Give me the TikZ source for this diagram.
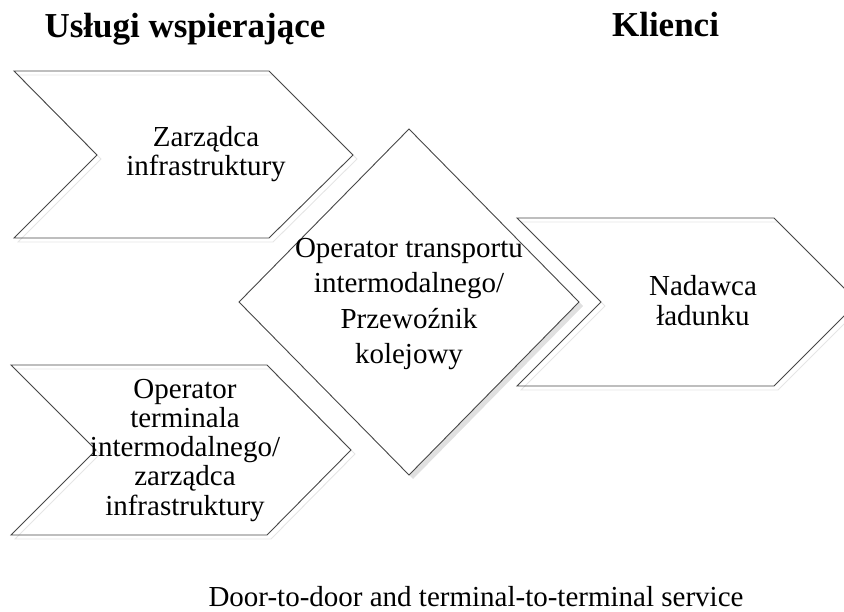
\documentclass[tikz,border=0pt]{standalone}
\usepackage{fontspec}
\setmainfont{Liberation Serif}
\begin{document}
\begin{tikzpicture}[x=1pt,y=-1pt,
  outline/.style={draw=black!72, line width=0.9pt, line join=miter},
  ghost/.style={draw=black!10, line width=0.9pt, line join=miter},
  lbl/.style={align=center, anchor=base, inner sep=0pt,
              font=\fontsize{29}{29.3}\selectfont},
  hdr/.style={anchor=base, inner sep=0pt, font=\fontsize{35}{40}\selectfont\bfseries}]
\useasboundingbox (0,0) rectangle (844,611);
\begin{scope}
  \clip (0,0) rectangle (844,611);
  % faint offset outlines behind the chevrons, soft shadow of the diamond
  \begin{scope}[shift={(4,4)}]
    \draw[ghost] (14,71) -- (269,71) -- (353,155) -- (269,238) -- (14,238) -- (97,155) -- cycle;
    \draw[ghost] (11,365) -- (267,365) -- (351,450) -- (267,535) -- (11,535) -- (96,450) -- cycle;
    \draw[ghost] (517,218) -- (774,218) -- (858,302) -- (774,386) -- (517,386) -- (601,302) -- cycle;
    \fill[black!12] (409,129) -- (579,302) -- (409,475) -- (239,302) -- cycle;
  \end{scope}
  % support services
  \draw[outline] (14,71) -- (269,71) -- (353,155) -- (269,238) -- (14,238) -- (97,155) -- cycle;
  \draw[outline] (11,365) -- (267,365) -- (351,450) -- (267,535) -- (11,535) -- (96,450) -- cycle;
  % central operator
  \draw[outline, fill=white] (409,129) -- (579,302) -- (409,475) -- (239,302) -- cycle;
  % client
  \draw[outline] (517,218) -- (774,218) -- (858,302) -- (774,386) -- (517,386) -- (601,302) -- cycle;
\end{scope}

% headings
\node[hdr] (hsup) at (185,37) {Usługi wspierające};
\node[hdr] (hcli) at (665.5,36) {Klienci};

% labels (anchored at the baseline of their last line)
\node[lbl] (infra) at (206,175.3) {Zarządca\\infrastruktury};
\node[lbl] (term) at (185,515.2) {Operator\\terminala\\intermodalnego/\\zarządca\\infrastruktury};
\node[lbl, font=\fontsize{29}{35.5}\selectfont] (oper) at (409,363.5)
  {Operator transportu\\intermodalnego/\\Przewoźnik\\kolejowy};
\node[lbl, font=\fontsize{29}{30}\selectfont] (ship) at (703,325) {Nadawca\\ładunku};

\node[lbl] (serv) at (476,606) {Door-to-door and terminal-to-terminal service};
\end{tikzpicture}
\end{document}
